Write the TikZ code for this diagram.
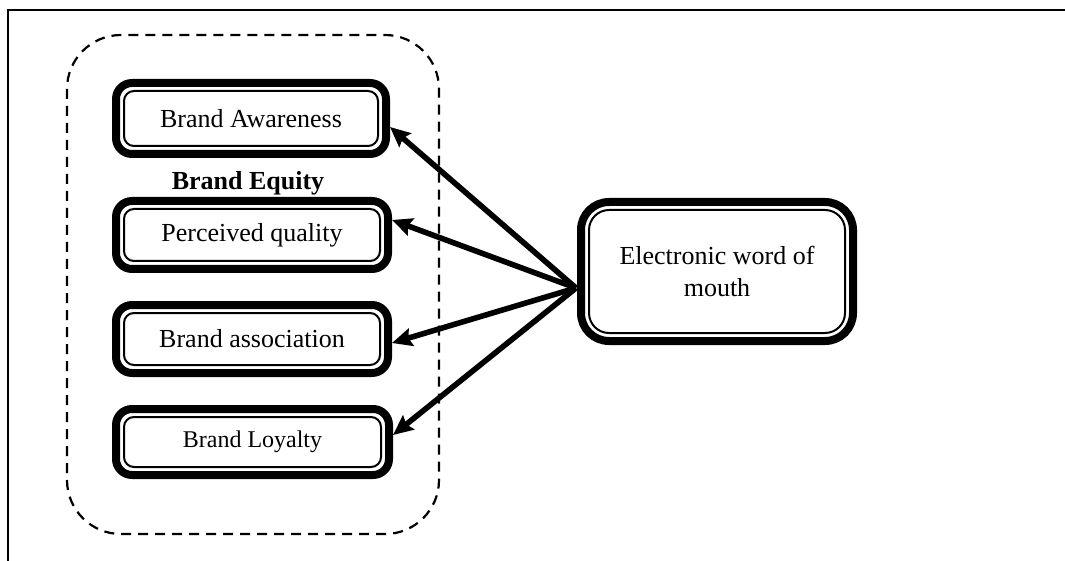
\documentclass[tikz,border=0pt]{standalone}
\usepackage{fontspec}
\setmainfont{Liberation Serif}
\usetikzlibrary{arrows.meta}
\begin{document}
\begin{tikzpicture}[x=0.5pt,y=-0.5pt,
  box/.style={draw, line width=4pt, rounded corners=8pt, align=center, inner sep=0pt, outer sep=0pt,
    font=\fontsize{13}{15.6}\selectfont},
  innerline/.style={draw, line width=1pt, rounded corners=5pt},
  conn/.style={line width=2.8pt, -{Stealth[length=10pt,width=9pt,inset=1.5pt]}},
  frameline/.style={line width=1.1pt},
  groupbox/.style={draw, line width=1.1pt, dash pattern=on 5pt off 3.5pt, rounded corners=27pt}]
\useasboundingbox (0,0) rectangle (1065,561);
% frame
\coordinate (ftr) at (1065,10);
\coordinate (ftl) at (8,10);
\coordinate (fbl) at (8,561);
\draw[frameline] (ftr) -- (ftl) -- (fbl);
% group
\draw[groupbox] (67,35) rectangle (439,534);
% boxes
\node[box, minimum width=135pt, minimum height=35.5pt] (ba) at (251,118.5) {Brand Awareness};
\node[font=\bfseries\fontsize{13}{15.6}\selectfont] (be) at (248,183) {Brand Equity};
\node[box, minimum width=136pt, minimum height=34pt] (pq) at (252,235) {Perceived quality};
\node[box, minimum width=136pt, minimum height=34pt] (bas) at (252,339) {Brand association};
\node[box, minimum width=136.5pt, minimum height=33pt, font=\fontsize{12}{14.4}\selectfont] (bl) at (252.5,442) {Brand Loyalty};
\node[box, rounded corners=14pt, minimum width=136pt, minimum height=69.5pt] (ew) at (717,271.5) {Electronic word of\\mouth};
\foreach \n in {ba,pq,bas,bl}
  \draw[innerline] ([shift={(4pt,-4pt)}]\n.north west) rectangle ([shift={(-4pt,4pt)}]\n.south east);
\draw[innerline, rounded corners=10pt] ([shift={(4pt,-4pt)}]ew.north west) rectangle ([shift={(-4pt,4pt)}]ew.south east);
% connectors
\coordinate (src) at ([xshift=-2.5pt,yshift=-8.25pt]ew.west);
\draw[conn] (src) -- ([xshift=2pt,yshift=-4.25pt]ba.east);
\draw[conn] (src) -- ([xshift=2pt,yshift=7.5pt]pq.east);
\draw[conn] (src) -- ([xshift=2pt,yshift=-2pt]bas.east);
\draw[conn] (src) -- ([xshift=2pt,yshift=3.5pt]bl.east);
\end{tikzpicture}
\end{document}
